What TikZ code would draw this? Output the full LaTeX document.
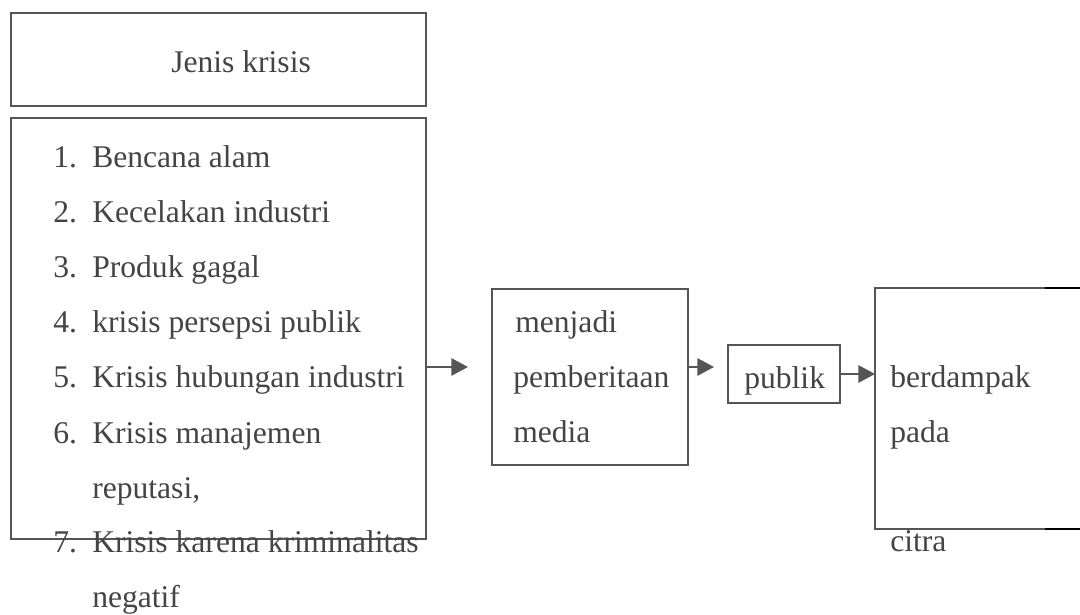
\documentclass[tikz,border=0pt]{standalone}
\usepackage{fontspec}
\setmainfont{Liberation Serif}
\usetikzlibrary{arrows.meta}
\definecolor{ink}{HTML}{444444}
\definecolor{edge}{HTML}{555555}
\begin{document}
\begin{tikzpicture}[x=0.75pt,y=-0.75pt,
  box/.style={draw=edge,line width=1.5pt,inner sep=0pt,anchor=north west},
  txt/.style={anchor=base west,inner sep=0pt,text=ink,font=\fontsize{23.7}{28}\selectfont},
  arr/.style={draw=edge,line width=1.5pt,-{Triangle[length=12.5pt,width=13pt]},color=edge}]
\useasboundingbox (0,0) rectangle (1080,614);
% boxes
\node[box,minimum width=415*0.75pt,minimum height=93*0.75pt] (head) at (10,12) {};
\node[box,minimum width=415*0.75pt,minimum height=421*0.75pt] (list) at (10,117) {};
\node[box,minimum width=196*0.75pt,minimum height=176*0.75pt] (media) at (491,288) {};
\node[box,minimum width=112*0.75pt,minimum height=58*0.75pt] (pub) at (727,344) {};
% open right box
\coordinate (rtl) at (875,288);
\coordinate (rbl) at (875,529);
\coordinate (rtm) at (1045,288);
\coordinate (rbm) at (1045,529);
\coordinate (rtr) at (1080,288);
\coordinate (rbr) at (1080,529);
\draw[edge,line width=1.5pt] (rtm) -- (rtl) -- (rbl) -- (rbm);
\draw[black,line width=1.5pt] (rtm) -- (rtr);
\draw[black,line width=1.5pt] (rbm) -- (rbr);
% texts
\node[txt] (t0) at (171,72) {Jenis krisis};
\newcommand{\num}[1]{\makebox[29.25pt][l]{#1}}
\node[txt] (l1) at (53,167) {\num{1.}Bencana alam};
\node[txt] (l2) at (53,222) {\num{2.}Kecelakan industri};
\node[txt] (l3) at (53,277) {\num{3.}Produk gagal};
\node[txt] (l4) at (53,332) {\num{4.}krisis persepsi publik};
\node[txt] (l5) at (53,387) {\num{5.}Krisis hubungan industri};
\node[txt] (l6) at (53,443) {\num{6.}Krisis manajemen};
\node[txt] (l6b) at (92,498) {reputasi,};
\node[txt] (l7) at (53,552) {\num{7.}Krisis karena kriminalitas};
\node[txt] (l7b) at (92,607) {negatif};
\node[txt] (m1) at (515,332) {menjadi};
\node[txt] (m2) at (513,387) {pemberitaan};
\node[txt] (m3) at (513,442) {media};
\node[txt] (p1) at (744,388) {publik};
\node[txt] (r1) at (890,387) {berdampak};
\node[txt] (r2) at (890,442) {pada};
\node[txt] (r3) at (890,551) {citra};
% connectors
\coordinate (a1) at (468,367);
\coordinate (a2) at (714,367);
\draw[arr] (list.east |- a1) -- (a1);
\draw[arr] (media.east |- a2) -- (a2);
\draw[arr] (pub.east) -- (pub.east -| rtl);
\end{tikzpicture}
\end{document}
